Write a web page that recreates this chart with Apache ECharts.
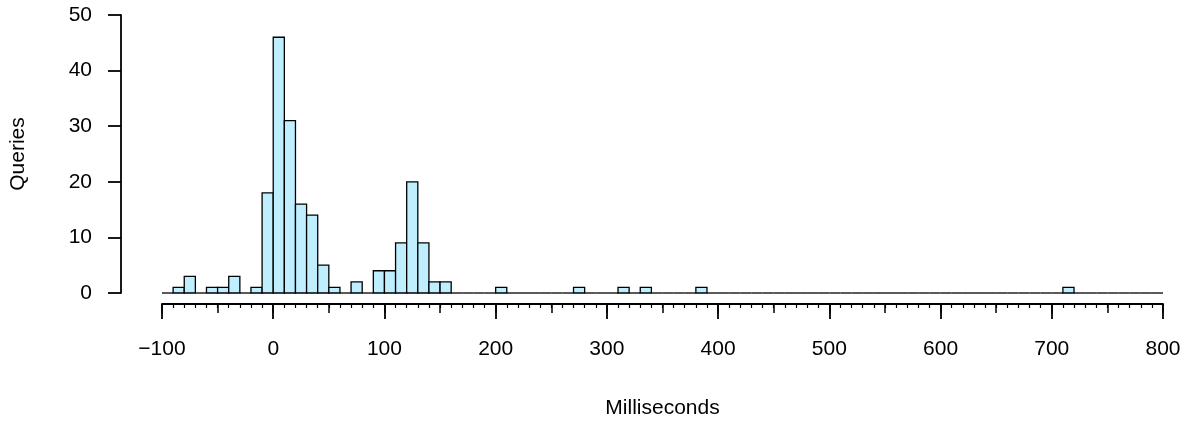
<!DOCTYPE html>
<html>
<head>
<meta charset="utf-8">
<title>Query latency histogram</title>
<script src="https://cdn.jsdelivr.net/npm/echarts@6/dist/echarts.min.js"></script>
<style>
  html, body { margin: 0; padding: 0; background: #ffffff; }
  #chart { width: 1188px; height: 424px; }
</style>
</head>
<body>
<div id="chart"></div>
<script>
// Histogram breaks: 10 ms bins from -100 to 800
const firstBreak = -100;
const binWidth = 10;

// Number of queries per bin, in order of the breaks above
const queryCounts = [
  0, 1, 3, 0, 1, 1, 3, 0, 1, 18,      // -100 .. 0
  46, 31, 16, 14, 5, 1, 0, 2, 0, 4,   // 0 .. 100
  4, 9, 20, 9, 2, 2, 0, 0, 0, 0,      // 100 .. 200
  1, 0, 0, 0, 0, 0, 0, 1, 0, 0,       // 200 .. 300
  0, 1, 0, 1, 0, 0, 0, 0, 1, 0,       // 300 .. 400
  0, 0, 0, 0, 0, 0, 0, 0, 0, 0,       // 400 .. 500
  0, 0, 0, 0, 0, 0, 0, 0, 0, 0,       // 500 .. 600
  0, 0, 0, 0, 0, 0, 0, 0, 0, 0,       // 600 .. 700
  0, 1, 0, 0, 0, 0, 0, 0, 0, 0        // 700 .. 800
];

const xTicks = [-100, 0, 100, 200, 300, 400, 500, 600, 700, 800];
const yTicks = [0, 10, 20, 30, 40, 50];

const xTitle = 'Milliseconds';
const yTitle = 'Queries';

const bins = queryCounts.map((count, i) => {
  const lo = firstBreak + i * binWidth;
  return [lo, lo + binWidth, count];
});

const FONT = '"Liberation Sans", Arial, Helvetica, sans-serif';
const FONT_SIZE = 21;
const INK = '#000000';
const FILL = '#BFEFFF';
const AXIS_W = 1.8;

const chart = echarts.init(document.getElementById('chart'), null, { renderer: 'canvas' });

chart.setOption({
  backgroundColor: '#ffffff',
  animation: false,
  grid: { left: 160, right: 25, top: 15, bottom: 131, containLabel: false },
  xAxis: [{
    // main axis: labelled ticks every 100 ms, minor ticks every 10 ms
    type: 'value',
    min: xTicks[0],
    max: xTicks[xTicks.length - 1],
    interval: 100,
    position: 'bottom',
    offset: 11,
    name: xTitle,
    nameLocation: 'middle',
    nameGap: 94,
    nameTextStyle: { color: INK, fontFamily: FONT, fontSize: FONT_SIZE },
    axisLine: { show: true, onZero: false, lineStyle: { color: INK, width: AXIS_W } },
    axisTick: { show: true, inside: false, length: 15, lineStyle: { color: INK, width: AXIS_W } },
    minorTick: { show: true, splitNumber: 10, length: 4, lineStyle: { color: INK, width: 1.2 } },
    splitLine: { show: false },
    axisLabel: {
      color: INK, fontFamily: FONT, fontSize: FONT_SIZE, margin: 35,
      formatter: v => (v < 0 ? '\u2212' + Math.abs(v) : String(v))
    }
  }, {
    // medium ticks every 50 ms on the same line
    type: 'value',
    min: xTicks[0],
    max: xTicks[xTicks.length - 1],
    interval: 50,
    position: 'bottom',
    offset: 11,
    axisLine: { show: false, onZero: false },
    axisTick: { show: true, inside: false, length: 9, lineStyle: { color: INK, width: 1.5 } },
    splitLine: { show: false },
    axisLabel: { show: false }
  }],
  yAxis: {
    type: 'value',
    min: yTicks[0],
    max: yTicks[yTicks.length - 1],
    interval: 10,
    position: 'left',
    offset: 41,
    name: yTitle,
    nameLocation: 'middle',
    nameRotate: 90,
    nameGap: 92,
    nameTextStyle: { color: INK, fontFamily: FONT, fontSize: FONT_SIZE },
    axisLine: { show: true, onZero: false, lineStyle: { color: INK, width: AXIS_W } },
    axisTick: { show: true, inside: false, length: 13, lineStyle: { color: INK, width: AXIS_W } },
    splitLine: { show: false },
    axisLabel: { color: INK, fontFamily: FONT, fontSize: FONT_SIZE, margin: 29 }
  },
  series: [{
    type: 'custom',
    xAxisIndex: 0,
    data: bins,
    clip: false,
    renderItem: function (params, api) {
      const lo = api.value(0), hi = api.value(1), n = api.value(2);
      const p0 = api.coord([lo, 0]);
      const p1 = api.coord([hi, n]);
      if (n === 0) {
        // empty bin: a flat outline along the baseline
        return {
          type: 'line',
          shape: { x1: p0[0], y1: p0[1], x2: p1[0], y2: p0[1] },
          style: { stroke: INK, lineWidth: 1.3 }
        };
      }
      return {
        type: 'rect',
        shape: { x: p0[0], y: p1[1], width: p1[0] - p0[0], height: p0[1] - p1[1] },
        style: { fill: FILL, stroke: INK, lineWidth: 1.3 }
      };
    }
  }]
});
</script>
</body>
</html>
